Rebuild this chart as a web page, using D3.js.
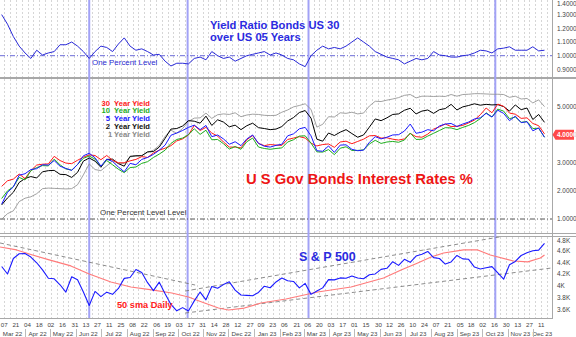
<!DOCTYPE html>
<html><head><meta charset="utf-8">
<script src="https://cdn.jsdelivr.net/npm/d3@7"></script>
<style>
html,body{margin:0;padding:0;background:#fff;}
svg{display:block;font-family:"Liberation Sans",Arial,sans-serif;}
</style></head><body>
<svg id="c" width="576" height="337"></svg>
<script>
// ---------- DATA ----------
const firstFriday = "2022-03-04";
const lastFriday = "2023-12-15";

const ratio30over05 = [1.30,1.23,1.14,1.07,1.02,0.98,1.04,1.005,1.02,1.03,1.08,1.08,1.10,1.07,1.03,0.98,1.03,1.07,1.06,1.03,1.085,1.13,1.07,1.04,1.05,1.03,1.005,1.01,0.96,0.925,0.945,0.945,0.94,0.98,0.99,0.97,1.03,1.0,0.98,0.99,0.96,0.98,1.0,1.01,1.02,1.03,1.005,1.02,1.005,0.98,0.97,0.94,0.92,1.0,1.04,1.07,1.05,1.06,1.05,1.07,1.10,1.13,1.10,1.07,1.03,1.01,0.99,0.98,0.97,0.94,0.96,0.98,0.97,0.98,1.03,1.005,1.0,0.99,0.99,1.0,1.005,1.02,1.04,1.035,1.02,1.05,1.055,1.065,1.04,1.04,1.04,1.065,1.035,1.04];

const yield30 = [2.16,2.36,2.42,2.60,2.44,2.72,2.92,2.95,2.96,3.23,3.08,2.99,2.97,3.09,3.20,3.28,3.26,3.11,3.26,3.09,3.00,3.00,3.07,3.12,3.22,3.19,3.35,3.45,3.52,3.61,3.78,3.85,3.99,4.33,4.15,4.26,4.06,3.95,3.74,3.56,3.56,3.53,3.82,3.97,
 3.69,3.61,3.65,3.63,3.62,3.83,3.88,3.93,3.88,3.70,3.60,3.65,3.67,3.55,3.74,3.77,3.68,3.76,3.84,3.96,3.97,3.88,3.89,3.84,3.81,3.85,4.04,3.93,3.91,4.02,4.20,4.28,4.38,4.29,4.30,4.33,4.42,4.52,4.71,4.95,4.78,5.09,5.01,4.77,4.73,4.58,4.60,4.40,4.32,4.03];
const yield10 = [1.73,2.00,2.15,2.48,2.39,2.72,2.83,2.90,2.89,3.13,2.93,2.78,2.74,2.94,3.16,3.24,3.13,2.88,3.08,2.93,2.77,2.65,2.83,2.85,2.98,3.04,3.19,3.31,3.45,3.69,3.83,3.88,4.00,4.21,4.01,4.16,3.82,3.83,3.68,3.49,3.58,3.48,3.75,3.88,
 3.56,3.51,3.48,3.51,3.53,3.74,3.82,3.95,3.96,3.70,3.39,3.38,3.47,3.29,3.52,3.57,3.44,3.44,3.46,3.67,3.80,3.69,3.74,3.76,3.73,3.81,4.06,3.83,3.84,3.95,4.05,4.15,4.25,4.24,4.18,4.26,4.33,4.43,4.57,4.78,4.63,4.91,4.84,4.57,4.63,4.44,4.47,4.22,4.23,3.91];
const yield05 = [1.53,1.95,2.14,2.56,2.61,2.76,2.79,2.93,2.92,3.08,2.88,2.80,2.73,2.94,3.25,3.34,3.18,2.88,3.13,3.05,2.85,2.68,2.98,2.93,3.12,3.19,3.30,3.45,3.63,3.98,4.06,4.15,4.26,4.34,4.18,4.33,3.93,3.99,3.85,3.66,3.75,3.61,3.85,3.99,
 3.69,3.59,3.56,3.62,3.66,3.96,4.03,4.21,4.26,3.96,3.43,3.41,3.60,3.37,3.63,3.64,3.48,3.43,3.45,3.73,3.93,3.85,3.91,3.99,4.00,4.13,4.38,4.05,4.09,4.18,4.14,4.31,4.38,4.40,4.29,4.38,4.45,4.56,4.60,4.76,4.63,4.87,4.76,4.50,4.66,4.43,4.46,4.14,4.24,3.91];
const yield02 = [1.50,1.75,1.95,2.30,2.44,2.51,2.46,2.68,2.72,2.73,2.59,2.58,2.48,2.66,3.06,3.17,3.06,2.84,3.12,3.13,2.97,2.88,3.23,3.25,3.25,3.39,3.40,3.56,3.87,4.20,4.22,4.31,4.50,4.48,4.41,4.66,4.33,4.53,4.45,4.28,4.34,4.18,4.32,4.41,
 4.25,4.22,4.18,4.20,4.29,4.49,4.61,4.79,4.86,4.59,3.84,3.77,4.06,3.97,4.09,4.18,4.04,3.91,3.99,4.27,4.56,4.50,4.60,4.72,4.74,4.87,4.94,4.74,4.84,4.88,4.76,4.89,4.93,5.08,4.88,4.99,5.04,5.10,5.05,5.08,5.06,5.07,5.00,4.84,5.06,4.89,4.95,4.54,4.72,4.44];
const yield01 = [0.99,1.19,1.29,1.62,1.74,1.79,1.90,2.08,2.10,2.09,2.08,2.07,2.08,2.22,2.57,2.96,2.76,2.72,2.89,3.07,2.98,2.98,3.21,3.24,3.26,3.37,3.45,3.62,3.94,4.16,4.05,4.22,4.47,4.59,4.60,4.77,4.58,4.71,4.74,4.72,4.78,4.64,4.70,4.73,
 4.72,4.69,4.68,4.69,4.80,4.88,4.99,5.04,5.10,4.90,4.27,4.37,4.64,4.63,4.78,4.76,4.80,4.74,4.77,5.02,5.19,5.18,5.23,5.27,5.32,5.40,5.43,5.31,5.37,5.37,5.36,5.37,5.36,5.43,5.37,5.43,5.44,5.46,5.46,5.45,5.44,5.44,5.43,5.33,5.37,5.27,5.29,5.13,5.24,5.00];

const spx = [4329,4204,4463,4543,4546,4488,4392,4272,4132,4123,4023,3901,4158,4109,3901,3675,3912,3825,3899,3863,3962,4130,4145,4280,4228,4058,3924,4067,3873,3693,3586,3640,3583,3753,3901,3771,3993,3965,4026,4072,3934,3852,3845,3840,
 3895,3999,3973,4071,4136,4090,4079,3970,4046,3862,3917,3971,4109,4105,4138,4133,4169,4136,4124,4192,4205,4282,4299,4410,4348,4450,4399,4505,4536,4582,4478,4464,4370,4406,4515,4457,4450,4320,4288,4308,4327,4224,4117,4358,4415,4514,4559,4595,4604,4719];

const smaDates = ["2022-03-02","2022-03-22","2022-04-10","2022-04-30","2022-05-26","2022-06-17","2022-07-13","2022-08-06","2022-08-31","2022-09-24","2022-10-14","2022-10-30","2022-11-19","2022-12-01","2022-12-20","2023-01-09","2023-02-08","2023-03-18","2023-04-27","2023-06-05","2023-06-26","2023-07-16","2023-08-01","2023-08-16","2023-09-09","2023-09-26","2023-10-11","2023-11-08","2023-11-25","2023-12-10","2023-12-15"];
const sma50 = [4657,4607,4523,4440,4339,4204,4070,3986,3936,3885,3818,3734,3633,3600,3633,3717,3784,3902,3986,4137,4271,4389,4489,4556,4607,4607,4523,4422,4406,4473,4523];

const trendStart = ["2022-03-02","2022-10-10","2022-10-10"];
const trendEnd   = ["2022-10-22","2023-10-22","2023-12-24"];
const trendFrom  = [4724,3918,3549];
const trendTo    = [4019,4825,4305];

const eventDates = ["2022-06-17","2022-10-13","2023-03-07","2023-10-17"];

const dayTicks = ["2022-03-07","2022-03-21","2022-04-04","2022-04-18","2022-05-02","2022-05-16","2022-05-31","2022-06-13","2022-06-27","2022-07-11","2022-07-25","2022-08-08","2022-08-22","2022-09-06","2022-09-19","2022-10-03","2022-10-17","2022-10-31","2022-11-14","2022-11-28","2022-12-12","2022-12-27",
 "2023-01-09","2023-01-23","2023-02-06","2023-02-21","2023-03-06","2023-03-20","2023-04-03","2023-04-17","2023-05-01","2023-05-15","2023-05-30","2023-06-12","2023-06-26","2023-07-10","2023-07-24","2023-08-07","2023-08-21","2023-09-05","2023-09-18","2023-10-02","2023-10-16","2023-10-30","2023-11-13","2023-11-27","2023-12-11"];

const ratioTicks = [0.9,1.0,1.1,1.2,1.3,1.4];
const yieldTicks = [1,2,3,4,5];
const spxTicks = [3600,3800,4000,4200,4400,4600,4800];
const lastBadge = 4.0;

// ---------- LAYOUT ----------
const W = 576, PR = 552;
const P = {top:[0,77], mid:[79,234], bot:[237,318]};
const parse = d3.utcParse("%Y-%m-%d");
const dates = d3.utcFriday.range(parse(firstFriday), d3.utcDay.offset(parse(lastFriday),1));
const x = d3.scaleUtc().domain([parse("2022-03-02"), parse("2023-12-24")]).range([0, PR]);
const yTop = d3.scaleLinear().domain([1.0,1.4]).range([55.7, 0.9]);
const yMid = d3.scaleLinear().domain([1,5]).range([219, 106.6]);
const yBot = d3.scaleLinear().domain([4000,4400]).range([286.15, 262.3]);

const svg = d3.select("#c");
svg.append("rect").attr("width",W).attr("height",337).attr("fill","#fff");

const defs = svg.append("defs");
Object.entries(P).forEach(([k,[a,b]])=>{
  defs.append("clipPath").attr("id","clip-"+k).append("rect").attr("x",0).attr("y",a).attr("width",PR).attr("height",b-a);
});

// weekly dotted grid
const mondays = d3.utcMonday.range(x.domain()[0], x.domain()[1]);
const grid = svg.append("g");
Object.values(P).forEach(([a,b])=>{
  grid.selectAll(null).data(mondays).enter().append("line")
    .attr("x1",d=>Math.round(x(d))+0.5).attr("x2",d=>Math.round(x(d))+0.5)
    .attr("y1",a).attr("y2",b).attr("stroke","#d6d6d6").attr("stroke-width",1).attr("stroke-dasharray","2,2");
});

// panel borders
const borders = svg.append("g").attr("fill","none").attr("stroke","#a8a8a8");
borders.append("line").attr("x1",0).attr("x2",W).attr("y1",77.5).attr("y2",77.5);
borders.append("line").attr("x1",0).attr("x2",W).attr("y1",78.5).attr("y2",78.5);
borders.append("line").attr("x1",0).attr("x2",W).attr("y1",233.5).attr("y2",233.5);
borders.append("line").attr("x1",0).attr("x2",W).attr("y1",236.5).attr("y2",236.5);
borders.append("line").attr("x1",0).attr("x2",PR+1).attr("y1",318.5).attr("y2",318.5);
borders.append("line").attr("x1",PR+0.5).attr("x2",PR+0.5).attr("y1",0).attr("y2",318);

// event lines
svg.append("g").selectAll("line").data(eventDates).enter().append("line")
  .attr("x1",d=>x(parse(d))).attr("x2",d=>x(parse(d))).attr("y1",0).attr("y2",318)
  .attr("stroke","#a2a2f6").attr("stroke-width",2);

// reference 1.0 lines
svg.append("line").attr("x1",0).attr("x2",PR).attr("y1",yTop(1)).attr("y2",yTop(1))
  .attr("stroke","#6a6ad8").attr("stroke-dasharray","5,2,1,2");
svg.append("line").attr("x1",0).attr("x2",PR).attr("y1",yMid(1)).attr("y2",yMid(1))
  .attr("stroke","#555").attr("stroke-dasharray","5,2,1,2");

function series(vals){ return vals.map((v,i)=>({d:dates[i], v})).filter(p=>p.d); }
function drawLine(g, data, y, color, w){
  g.append("path").datum(data).attr("fill","none").attr("stroke",color).attr("stroke-width",w)
   .attr("stroke-linejoin","round")
   .attr("d", d3.line().x(p=>x(p.d)).y(p=>y(p.v)));
}

// top panel
const gTop = svg.append("g").attr("clip-path","url(#clip-top)");
drawLine(gTop, series(ratio30over05), yTop, "#2a2ad8", 1);

// middle panel
const gMid = svg.append("g").attr("clip-path","url(#clip-mid)");
drawLine(gMid, series(yield01), yMid, "#8a8a8a", 0.8);
drawLine(gMid, series(yield02), yMid, "#000000", 1);
drawLine(gMid, series(yield30), yMid, "#ff1a1a", 1);
drawLine(gMid, series(yield10), yMid, "#1fae1f", 1);
drawLine(gMid, series(yield05), yMid, "#1a1aff", 1);

// bottom panel
const gBot = svg.append("g").attr("clip-path","url(#clip-bot)");
trendStart.forEach((s,i)=>{
  gBot.append("line").attr("x1",x(parse(s))).attr("y1",yBot(trendFrom[i]))
    .attr("x2",x(parse(trendEnd[i]))).attr("y2",yBot(trendTo[i]))
    .attr("stroke","#707070").attr("stroke-width",0.8).attr("stroke-dasharray","4,3");
});
drawLine(gBot, smaDates.map((d,i)=>({d:parse(d), v:sma50[i]})), yBot, "#ff7b7b", 1.2);
drawLine(gBot, series(spx), yBot, "#1a1aff", 1.1);

// right axes
const axG = svg.append("g").attr("font-size","6.4px").attr("fill","#444");
function axisLabels(ticks, y, fmt, minY){
  ticks.forEach(t=>{
    axG.append("text").attr("x",557).attr("y",Math.max(minY, y(t))).attr("dy","0.35em").text(fmt(t));
  });
}
axisLabels(ratioTicks, yTop, d3.format(".4f"), 4);
axisLabels(yieldTicks, yMid, d3.format(".4f"), 82);
axisLabels(spxTicks, yBot, v=> (v/1000)+"K", 240.5);

// badge
const by = yMid(lastBadge);
svg.append("path").attr("d",`M${PR+0.5},${by} L${PR+3.5},${by-5} L${W-2},${by-5} L${W-2},${by+5} L${PR+3.5},${by+5} Z`).attr("fill","#ff4a4a");
svg.append("text").attr("x",557).attr("y",by).attr("dy","0.35em").attr("font-size","6.4px").attr("fill","#fff").attr("font-weight","bold").text(d3.format(".4f")(lastBadge));

// bottom x axis
const xa = svg.append("g").attr("font-size","6.2px").attr("fill","#444").attr("text-anchor","middle");
dayTicks.forEach(d=>{
  const dt = parse(d);
  xa.append("text").attr("x",x(dt)).attr("y",325).attr("dy","0.35em").text(d3.utcFormat("%d")(dt));
});
const months = d3.utcMonth.range(d3.utcMonth.floor(x.domain()[0]), x.domain()[1]);
months.forEach(m=>{
  const a = Math.max(0, x(m)), b = Math.min(PR, x(d3.utcMonth.offset(m,1)));
  xa.append("text").attr("x",(a+b)/2).attr("y",333.5).attr("dy","0.35em").text(d3.utcFormat("%b %y")(m));
  if (x(m) > 0) svg.append("line").attr("x1",Math.round(x(m))+0.5).attr("x2",Math.round(x(m))+0.5)
     .attr("y1",329).attr("y2",337).attr("stroke","#bbb");
});

// annotations
const ann = svg.append("g").attr("font-weight","bold");
ann.append("text").attr("x",210).attr("y",29).attr("font-size","11.2px").attr("fill","#2a2ae0").text("Yield Ratio Bonds US 30");
ann.append("text").attr("x",210).attr("y",41).attr("font-size","11.2px").attr("fill","#2a2ae0").text("over US 05 Years");
svg.append("text").attr("x",92).attr("y",65).attr("font-size","7.9px").attr("fill","#2a2ad0").text("One Percent Level");

const leg = [["30  Year Yield","#ff1a1a",105.5],["10  Year Yield","#1fae1f",113.3],["5  Year Yield","#1a1aff",121],["2  Year Yield","#111",128.8],["1 Year Yield","#8a8a8a",136.6]];
leg.forEach(([t,c,yy])=> ann.append("text").attr("x",150).attr("y",yy).attr("text-anchor","end").attr("font-size","7.6px").attr("fill",c).attr("xml:space","preserve").style("white-space","pre").text(t));

ann.append("text").attr("x",246).attr("y",183.5).attr("font-size","14.8px").attr("fill","#ee1515").text("U S Gov Bonds Interest Rates %");
svg.append("text").attr("x",100).attr("y",215).attr("font-size","7.9px").attr("fill","#333").text("One Percent Level Level");
ann.append("text").attr("x",299).attr("y",261).attr("font-size","12.5px").attr("fill","#2a2ae0").text("S & P 500");
ann.append("text").attr("x",117).attr("y",308).attr("font-size","9.2px").attr("fill","#ff2020").text("50 sma Daily");
</script>
</body></html>
